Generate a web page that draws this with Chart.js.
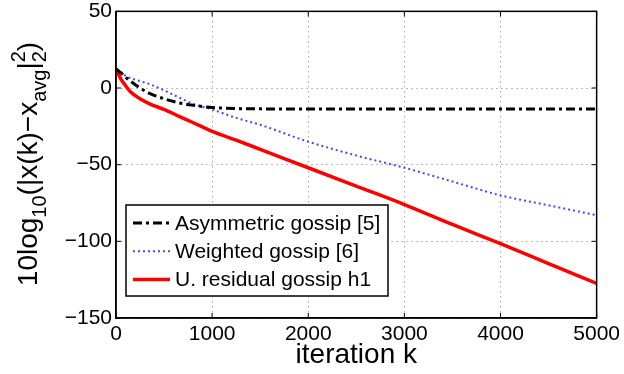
<!DOCTYPE html>
<html>
<head>
<meta charset="utf-8">
<script src="https://cdn.jsdelivr.net/npm/chart.js@4/dist/chart.umd.min.js"></script>
<style>
  html, body { margin: 0; padding: 0; background: #fff; }
  #c { display: block; }
</style>
</head>
<body>
<canvas id="c" width="624" height="374"></canvas>
<script>
const iterations = [0, 50, 100, 150, 250, 350, 500, 650, 800, 1000, 1250, 1500, 2000, 2500, 3000, 3500, 4000, 4500, 5000];

// 10log10(||x(k) - x_avg||^2) for each method
const asymmetric = [12.5, 10, 7, 4.5, 0, -3.5, -7, -9.6, -11.2, -12.7, -13.4, -13.6, -13.7, -13.7, -13.7, -13.7, -13.7, -13.7, -13.7];
const weighted = [12.5, 10, 8, 6.5, 4.5, 2.5, -1.5, -6, -10.3, -14, -19.5, -24, -35, -44, -52, -61, -70, -76.5, -83];
const residual = [12.5, 6, 1.5, -2.5, -7, -10.3, -14, -18.3, -22.5, -28.3, -34, -40, -52, -64, -76, -89, -101.5, -114.5, -127.5];

const seriesNames = ['Asymmetric gossip [5]', 'Weighted gossip [6]', 'U. residual gossip h1'];

const xTicks = [0, 1000, 2000, 3000, 4000, 5000];
const yTicks = [-150, -100, -50, 0, 50];

const FONT = 'Liberation Sans, Arial, Helvetica, sans-serif';

function pts(vals) {
  return iterations.map((k, i) => ({ x: k, y: vals[i] }));
}

// box around the axes with inward ticks, matlab style
const framePlugin = {
  id: 'frame',
  afterDatasetsDraw(chart) {
    const { ctx, chartArea: a, scales } = chart;
    ctx.save();
    ctx.strokeStyle = '#000';
    ctx.lineWidth = 1.5;
    ctx.strokeRect(a.left, a.top, a.right - a.left, a.bottom - a.top);
    ctx.lineWidth = 1;
    ctx.beginPath();
    xTicks.forEach(t => {
      const x = scales.x.getPixelForValue(t);
      ctx.moveTo(x, a.bottom); ctx.lineTo(x, a.bottom - 5);
      ctx.moveTo(x, a.top); ctx.lineTo(x, a.top + 5);
    });
    yTicks.forEach(t => {
      const y = scales.y.getPixelForValue(t);
      ctx.moveTo(a.left, y); ctx.lineTo(a.left + 5, y);
      ctx.moveTo(a.right, y); ctx.lineTo(a.right - 5, y);
    });
    ctx.stroke();
    ctx.restore();
  }
};

// legend box in the lower left of the plot
const legendPlugin = {
  id: 'boxLegend',
  afterDraw(chart) {
    const { ctx, chartArea: a } = chart;
    const left = a.left + 10, top = 205, w = 262, h = 91;
    ctx.save();
    ctx.fillStyle = '#fff';
    ctx.fillRect(left, top, w, h);
    ctx.strokeStyle = '#000';
    ctx.lineWidth = 1.5;
    ctx.strokeRect(left, top, w, h);
    ctx.font = '21px ' + FONT;
    ctx.textBaseline = 'middle';
    chart.data.datasets.forEach((ds, i) => {
      const y = top + 18 + i * 28.3;
      ctx.beginPath();
      ctx.setLineDash(ds.borderDash || []);
      ctx.strokeStyle = ds.borderColor;
      ctx.lineWidth = ds.borderWidth;
      ctx.moveTo(left + 7, y);
      ctx.lineTo(left + 44, y);
      ctx.stroke();
      ctx.setLineDash([]);
      ctx.fillStyle = '#000';
      ctx.fillText(ds.label, left + 49, y + 1);
    });
    ctx.restore();
  }
};

// y title with sub/superscripts, drawn rotated
const yTitlePlugin = {
  id: 'yTitle',
  afterDraw(chart) {
    const { ctx } = chart;
    const big = '28px ' + FONT, small = '20px ' + FONT;
    const parts = [
      { t: '10log', f: big, dy: 0 },
      { t: '10', f: small, dy: 9 },
      { t: '(|x(k)\u2212x', f: big, dy: 0 },
      { t: 'avg', f: small, dy: 9 },
      { t: '|', f: big, dy: 0 },
      { t: '2', f: small, dy: -12, stack: true },
      { t: '2', f: small, dy: 9 },
      { t: ')', f: big, dy: 0 }
    ];
    ctx.save();
    let total = 0;
    parts.forEach(p => {
      ctx.font = p.f;
      p.w = ctx.measureText(p.t).width;
      if (!p.stack) total += p.w;
    });
    ctx.translate(37, 164);
    ctx.rotate(-Math.PI / 2);
    ctx.fillStyle = '#000';
    ctx.textBaseline = 'alphabetic';
    let x = -total / 2;
    parts.forEach(p => {
      ctx.font = p.f;
      ctx.fillText(p.t, x, p.dy);
      if (!p.stack) x += p.w;
    });
    ctx.restore();
  }
};

new Chart(document.getElementById('c'), {
  type: 'line',
  data: {
    datasets: [{
      label: seriesNames[0],
      data: pts(asymmetric),
      borderColor: '#000000',
      borderWidth: 3,
      borderDash: [9, 4, 3, 4],
      pointRadius: 0,
      cubicInterpolationMode: 'monotone'
    }, {
      label: seriesNames[1],
      data: pts(weighted),
      borderColor: 'rgba(50,50,255,0.9)',
      borderWidth: 2,
      borderDash: [2, 3],
      pointRadius: 0,
      cubicInterpolationMode: 'monotone'
    }, {
      label: seriesNames[2],
      data: pts(residual),
      borderColor: '#ff0000',
      borderWidth: 3.5,
      pointRadius: 0,
      cubicInterpolationMode: 'monotone'
    }]
  },
  options: {
    responsive: false,
    animation: false,
    devicePixelRatio: 1,
    layout: { padding: { left: 0, right: 26, top: 0, bottom: 0 } },
    plugins: { legend: { display: false }, tooltip: { enabled: false } },
    scales: {
      x: {
        type: 'linear',
        min: 0, max: 5000,
        afterBuildTicks: s => { s.ticks = xTicks.map(v => ({ value: v })); },
        ticks: {
          font: { size: 21, family: FONT }, color: '#000', padding: 4, maxRotation: 0,
          callback: v => String(v)
        },
        grid: { color: '#777', lineWidth: 1, drawTicks: false },
        border: { display: true, color: '#000', width: 1.5, dash: [1, 4] },
        title: {
          display: true, text: 'iteration k', font: { size: 28, family: FONT }, color: '#000',
          padding: { top: 0, bottom: 2 }
        },
        afterFit: s => { s.height = 56; }
      },
      y: {
        min: -150, max: 50,
        afterBuildTicks: s => { s.ticks = yTicks.map(v => ({ value: v })); },
        ticks: {
          font: { size: 21, family: FONT, lineHeight: 0.7 }, color: '#000', padding: 4,
          callback: v => String(v).replace('-', '\u2212')
        },
        grid: { color: '#777', lineWidth: 1, drawTicks: false },
        border: { display: true, color: '#000', width: 1.5, dash: [1, 4] },
        afterFit: s => { s.width = 116; }
      }
    }
  },
  plugins: [framePlugin, legendPlugin, yTitlePlugin]
});
</script>
</body>
</html>
